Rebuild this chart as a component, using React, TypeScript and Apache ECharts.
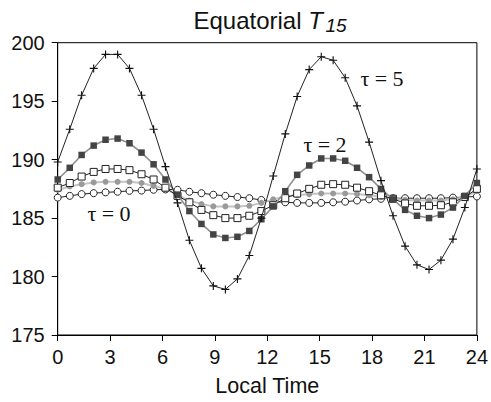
import React, { useEffect, useRef } from "react";
import * as echarts from "echarts";

const hours = [0, 0.69, 1.37, 2.06, 2.74, 3.43, 4.11, 4.8, 5.49, 6.17, 6.86, 7.54, 8.23, 8.91, 9.6, 10.29, 10.97, 11.66, 12.34, 13.03, 13.71, 14.4, 15.09, 15.77, 16.46, 17.14, 17.83, 18.51, 19.2, 19.89, 20.57, 21.26, 21.94, 22.63, 23.31, 24];

const tau5 = [189.8, 192.6, 195.5, 197.8, 199.0, 199.0, 197.8, 195.5, 192.6, 189.4, 186.3, 183.1, 180.7, 179.2, 178.9, 179.8, 181.8, 185.0, 188.6, 192.2, 195.4, 197.7, 198.8, 198.5, 197.0, 194.6, 191.5, 188.2, 185.2, 182.6, 181.0, 180.6, 181.4, 183.2, 185.9, 189.2];
const tau2 = [188.3, 189.3, 190.4, 191.2, 191.7, 191.8, 191.4, 190.6, 189.6, 188.3, 187.0, 185.6, 184.5, 183.6, 183.3, 183.4, 183.9, 184.9, 186.0, 187.3, 188.7, 189.5, 190.1, 190.1, 189.9, 189.3, 188.5, 187.5, 186.6, 185.7, 185.2, 185.0, 185.3, 185.9, 186.9, 188.0];
const openSquares = [187.6, 188.0, 188.55, 188.95, 189.2, 189.2, 189.1, 188.75, 188.3, 187.6, 186.9, 186.35, 185.7, 185.25, 185.0, 185.0, 185.2, 185.6, 186.1, 186.7, 187.1, 187.5, 187.85, 187.9, 187.85, 187.6, 187.3, 186.95, 186.65, 186.25, 186.05, 186.05, 186.1, 186.35, 186.8, 187.5];
const grayDots = [187.4, 187.7, 187.9, 188.05, 188.1, 188.1, 188.1, 188.0, 187.75, 187.5, 186.95, 186.5, 186.2, 186.0, 186.0, 186.0, 186.05, 186.3, 186.6, 186.85, 186.95, 187.05, 187.1, 187.1, 187.1, 187.05, 186.95, 186.8, 186.65, 186.55, 186.5, 186.5, 186.5, 186.6, 186.8, 187.3];
const tau0 = [186.75, 186.9, 187.05, 187.13, 187.2, 187.25, 187.33, 187.35, 187.42, 187.45, 187.42, 187.25, 187.13, 187.0, 186.9, 186.8, 186.7, 186.55, 186.4, 186.35, 186.3, 186.3, 186.3, 186.35, 186.4, 186.5, 186.6, 186.65, 186.7, 186.7, 186.7, 186.7, 186.7, 186.75, 186.8, 186.85];

const xTicks = { min: 0, max: 24, interval: 3 };
const yTicks = { min: 175, max: 200, interval: 5 };

const SANS = "Liberation Sans";
const SERIF = "Liberation Serif";
const PLUS = "path://M4.3,0H5.7V4.3H10V5.7H5.7V10H4.3V5.7H0V4.3H4.3Z";

const pairs = (ys: number[]) => hours.map((h, i) => [h, ys[i]]);

const label = (text: string, x: number, y: number, size: number, family: string, italic = false) => ({
  type: "text",
  x,
  y,
  style: {
    text,
    fontSize: size,
    fontFamily: family,
    fontStyle: italic ? "italic" : "normal",
    fill: "#111",
    align: "center",
    verticalAlign: "middle",
    textAlign: "center",
    textVerticalAlign: "middle",
  },
});

export default function App() {
  const ref = useRef<HTMLDivElement>(null);
  useEffect(() => {
    if (!ref.current) return;
    const chart = echarts.init(ref.current, null, { renderer: "svg" });
    chart.setOption({
      animation: false,
      backgroundColor: "#ffffff",
      grid: {
        left: 57.7,
        right: 10,
        top: 42.7,
        bottom: 65,
        show: true,
        borderColor: "#000",
        borderWidth: 1,
        backgroundColor: "transparent",
      },
      xAxis: {
        type: "value",
        min: xTicks.min,
        max: xTicks.max,
        interval: xTicks.interval,
        name: "Local Time",
        nameLocation: "middle",
        nameGap: 40,
        nameTextStyle: { fontFamily: SANS, fontSize: 21.5, color: "#111" },
        axisLine: { show: true, lineStyle: { color: "#000", width: 1 } },
        axisTick: { show: true, inside: false, length: 6, lineStyle: { color: "#000" } },
        axisLabel: { margin: 12, fontFamily: SANS, fontSize: 20, color: "#111" },
        splitLine: { show: false },
      },
      yAxis: {
        type: "value",
        min: yTicks.min,
        max: yTicks.max,
        interval: yTicks.interval,
        axisLine: { show: true, lineStyle: { color: "#000", width: 1 } },
        axisTick: { show: true, inside: false, length: 6, lineStyle: { color: "#000" } },
        axisLabel: { margin: 13, fontFamily: SANS, fontSize: 20, color: "#111" },
        splitLine: { show: false },
      },
      graphic: [
        label("Equatorial", 247.5, 20, 24, SANS),
        label("T", 315.5, 20, 24, SANS, true),
        label("15", 336, 25, 19, SANS, true),
        label("τ = 5", 382, 78, 22, SERIF),
        label("τ = 2", 325, 144, 22, SERIF),
        label("τ = 0", 109, 213, 22, SERIF),
      ],
      series: [
        {
          name: "τ = 0",
          type: "line",
          data: pairs(tau0),
          symbol: "circle",
          symbolSize: 7,
          showAllSymbol: true,
          lineStyle: { color: "#222", width: 1 },
          itemStyle: { color: "#fff", borderColor: "#222", borderWidth: 1 },
          z: 2,
        },
        {
          name: "τ = 1",
          type: "line",
          data: pairs(grayDots),
          symbol: "circle",
          symbolSize: 6,
          showAllSymbol: true,
          lineStyle: { color: "#c4c4c4", width: 2 },
          itemStyle: { color: "#9a9a9a", borderColor: "#9a9a9a", borderWidth: 0 },
          z: 3,
        },
        {
          name: "open squares",
          type: "line",
          data: pairs(openSquares),
          symbol: "rect",
          symbolSize: 7,
          showAllSymbol: true,
          lineStyle: { color: "#222", width: 1 },
          itemStyle: { color: "#fff", borderColor: "#222", borderWidth: 1 },
          z: 4,
        },
        {
          name: "τ = 2",
          type: "line",
          data: pairs(tau2),
          symbol: "rect",
          symbolSize: 6.5,
          showAllSymbol: true,
          lineStyle: { color: "#909090", width: 1.6 },
          itemStyle: { color: "#444", borderColor: "#444", borderWidth: 0 },
          z: 5,
        },
        {
          name: "τ = 5",
          type: "line",
          data: pairs(tau5),
          symbol: PLUS,
          symbolSize: 8,
          symbolKeepAspect: true,
          showAllSymbol: true,
          lineStyle: { color: "#222", width: 1 },
          itemStyle: { color: "#111", borderWidth: 0 },
          z: 6,
        },
      ],
    });
    return () => chart.dispose();
  }, []);
  return (
    <div
      ref={ref}
      style={{ position: "absolute", left: 0, top: 0, width: 491, height: 402, background: "#fff" }}
    />
  );
}
